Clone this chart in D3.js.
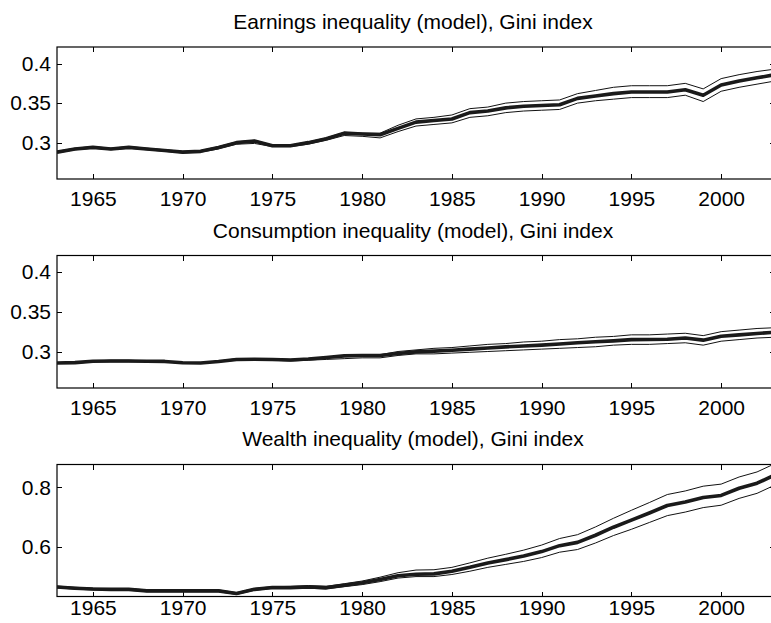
<!DOCTYPE html>
<html lang="en">
  <head>
    <meta charset="utf-8">
    <title>Inequality (model), Gini index</title>
    <style>
      body { margin: 0; background: #fff; }
      svg { display: block; overflow: hidden; }
      .axis text {
        font-family: "Liberation Sans", Arial, sans-serif;
        font-size: 21px;
        fill: #000;
      }
      .axis line { stroke: #000; stroke-width: 1; shape-rendering: crispEdges; }
      .axis path { display: none; }
      .title {
        font-family: "Liberation Sans", Arial, sans-serif;
        font-size: 21px;
        text-anchor: middle;
        fill: #000;
      }
    </style>
  </head>
  <body>
    <div id="svg-area"></div>
    <script src="https://cdn.jsdelivr.net/npm/d3@7/dist/d3.min.js"></script>
    <script>
      const svg_width = 771;
      const svg_height = 623;

      const years = d3.range(1963, 2004);
      const x_ticks = [1965, 1970, 1975, 1980, 1985, 1990, 1995, 2000];

      //earnings
      const earn_mid = [0.288, 0.292, 0.294, 0.292, 0.294, 0.292, 0.290, 0.288, 0.289, 0.294,
        0.300, 0.302, 0.296, 0.296, 0.300, 0.305, 0.312, 0.311, 0.310, 0.318,
        0.326, 0.328, 0.330, 0.338, 0.340, 0.344, 0.346, 0.347, 0.348, 0.356,
        0.359, 0.362, 0.364, 0.364, 0.364, 0.367, 0.360, 0.373, 0.378, 0.382, 0.386];
      const earn_hi = [0.289, 0.293, 0.295, 0.293, 0.295, 0.293, 0.291, 0.289, 0.290, 0.295,
        0.301, 0.303, 0.297, 0.297, 0.301, 0.306, 0.313, 0.312, 0.312, 0.322,
        0.330, 0.332, 0.335, 0.343, 0.345, 0.350, 0.352, 0.353, 0.354, 0.362,
        0.366, 0.370, 0.372, 0.372, 0.372, 0.375, 0.368, 0.381, 0.386, 0.390, 0.393];
      const earn_lo = [0.287, 0.291, 0.293, 0.291, 0.293, 0.291, 0.289, 0.287, 0.288, 0.292,
        0.298, 0.299, 0.295, 0.295, 0.298, 0.303, 0.309, 0.308, 0.306, 0.314,
        0.321, 0.323, 0.325, 0.332, 0.334, 0.338, 0.340, 0.341, 0.342, 0.350,
        0.353, 0.355, 0.357, 0.357, 0.357, 0.360, 0.352, 0.365, 0.370, 0.374, 0.378];

      //consumption
      const cons_mid = [0.2856, 0.286, 0.2878, 0.288, 0.288, 0.2878, 0.2875, 0.2858, 0.2856, 0.2875,
        0.2900, 0.2903, 0.2900, 0.2893, 0.2905, 0.2925, 0.2945, 0.2950, 0.2950, 0.2975,
        0.2995, 0.3005, 0.3016, 0.303, 0.3045, 0.3058, 0.307, 0.308, 0.3095, 0.311,
        0.3122, 0.3134, 0.315, 0.3152, 0.3155, 0.317, 0.3143, 0.3193, 0.321, 0.3227, 0.3243];
      const cons_hi = [0.286, 0.287, 0.288, 0.289, 0.289, 0.288, 0.288, 0.286, 0.286, 0.288,
        0.291, 0.291, 0.291, 0.290, 0.291, 0.293, 0.295, 0.296, 0.296, 0.300,
        0.302, 0.304, 0.305, 0.307, 0.309, 0.310, 0.312, 0.313, 0.315, 0.316,
        0.318, 0.319, 0.321, 0.321, 0.322, 0.323, 0.320, 0.325, 0.327, 0.329, 0.330];
      const cons_lo = [0.285, 0.285, 0.287, 0.287, 0.287, 0.287, 0.287, 0.285, 0.285, 0.287,
        0.289, 0.289, 0.289, 0.288, 0.289, 0.290, 0.291, 0.292, 0.292, 0.295,
        0.297, 0.297, 0.298, 0.299, 0.300, 0.301, 0.302, 0.303, 0.304, 0.305,
        0.306, 0.308, 0.309, 0.309, 0.310, 0.311, 0.308, 0.313, 0.315, 0.317, 0.318];

      //wealth
      const wealth_mid = [0.465, 0.461, 0.458, 0.457, 0.457, 0.452, 0.452, 0.452, 0.452, 0.452,
        0.443, 0.457, 0.463, 0.463, 0.465, 0.463, 0.471, 0.479, 0.490, 0.503,
        0.508, 0.509, 0.518, 0.531, 0.546, 0.557, 0.569, 0.584, 0.604, 0.615,
        0.639, 0.666, 0.690, 0.714, 0.739, 0.751, 0.766, 0.773, 0.797, 0.814, 0.842];
      const wealth_hi = [0.468, 0.464, 0.461, 0.460, 0.460, 0.455, 0.455, 0.455, 0.455, 0.455,
        0.446, 0.460, 0.466, 0.467, 0.470, 0.467, 0.476, 0.485, 0.498, 0.513,
        0.522, 0.523, 0.531, 0.546, 0.562, 0.575, 0.589, 0.606, 0.628, 0.641,
        0.667, 0.696, 0.723, 0.749, 0.776, 0.788, 0.804, 0.811, 0.835, 0.852, 0.880];
      const wealth_lo = [0.462, 0.458, 0.455, 0.454, 0.454, 0.449, 0.449, 0.449, 0.449, 0.449,
        0.440, 0.454, 0.460, 0.460, 0.461, 0.458, 0.466, 0.473, 0.483, 0.495,
        0.500, 0.500, 0.507, 0.518, 0.531, 0.541, 0.551, 0.564, 0.582, 0.591,
        0.613, 0.638, 0.659, 0.682, 0.705, 0.717, 0.732, 0.740, 0.763, 0.780, 0.808];

      const titles = [
        'Earnings inequality (model), Gini index',
        'Consumption inequality (model), Gini index',
        'Wealth inequality (model), Gini index'
      ];
      const y_ticks = [[0.3, 0.35, 0.4], [0.3, 0.35, 0.4], [0.6, 0.8]];
      const y_domains = [[0.254, 0.421], [0.254, 0.421], [0.433, 0.877]];

      const panels = [
        { title: titles[0], mid: earn_mid, hi: earn_hi, lo: earn_lo, yt: y_ticks[0], yd: y_domains[0],
          top: 47, bottom: 179, title_y: 29, lab_pad: 12 },
        { title: titles[1], mid: cons_mid, hi: cons_hi, lo: cons_lo, yt: y_ticks[1], yd: y_domains[1],
          top: 255.5, bottom: 388, title_y: 238, lab_pad: 12 },
        { title: titles[2], mid: wealth_mid, hi: wealth_hi, lo: wealth_lo, yt: y_ticks[2], yd: y_domains[2],
          top: 464.5, bottom: 596.5, title_y: 446, lab_pad: 4 }
      ];

      const left = 57, right = 775;

      const svg = d3.select('#svg-area')
        .append('svg')
        .attr('width', svg_width)
        .attr('height', svg_height);

      const x_scale = d3.scaleLinear()
        .domain([1963, 2003])
        .range([left, right]);

      panels.forEach((p, i) => {
        const y_scale = d3.scaleLinear()
          .domain(p.yd)
          .range([p.bottom, p.top]);

        //clip
        svg.append('clipPath').attr('id', `clip${i}`)
          .append('rect')
          .attr('x', left).attr('y', p.top)
          .attr('width', right - left).attr('height', p.bottom - p.top);

        //axes, ticks inside
        svg.append('g').attr('class', 'axis')
          .attr('transform', `translate(0,${p.bottom})`)
          .call(d3.axisBottom(x_scale).tickValues(x_ticks).tickFormat(d3.format('d'))
            .tickSizeInner(-5).tickSizeOuter(0).tickPadding(p.lab_pad));
        svg.append('g').attr('class', 'axis')
          .attr('transform', `translate(0,${p.top})`)
          .call(d3.axisTop(x_scale).tickValues(x_ticks).tickFormat('')
            .tickSizeInner(-5).tickSizeOuter(0));
        svg.append('g').attr('class', 'axis')
          .attr('transform', `translate(${left},0)`)
          .call(d3.axisLeft(y_scale).tickValues(p.yt).tickFormat(d => String(d))
            .tickSizeInner(-5).tickSizeOuter(0).tickPadding(6));
        svg.append('g').attr('class', 'axis')
          .attr('transform', `translate(${right},0)`)
          .call(d3.axisRight(y_scale).tickValues(p.yt).tickFormat('')
            .tickSizeInner(-5).tickSizeOuter(0));

        //box
        svg.append('rect')
          .attr('x', left).attr('y', p.top)
          .attr('width', right - left).attr('height', p.bottom - p.top)
          .attr('fill', 'none').attr('stroke', '#000').attr('stroke-width', 1.2);

        const line = d3.line()
          .x((d, j) => x_scale(years[j]))
          .y(d => y_scale(d));

        const g = svg.append('g').attr('clip-path', `url(#clip${i})`);
        [p.hi, p.lo].forEach(s => {
          g.append('path').datum(s)
            .attr('d', line)
            .attr('fill', 'none')
            .attr('stroke', '#111')
            .attr('stroke-width', 1);
        });
        g.append('path').datum(p.mid)
          .attr('d', line)
          .attr('fill', 'none')
          .attr('stroke', '#1a1a1a')
          .attr('stroke-width', 3.6)
          .attr('stroke-linejoin', 'round');

        //title
        svg.append('text')
          .attr('class', 'title')
          .attr('x', (left + right) / 2 - 3)
          .attr('y', p.title_y)
          .text(p.title);
      });
    </script>
  </body>
</html>
